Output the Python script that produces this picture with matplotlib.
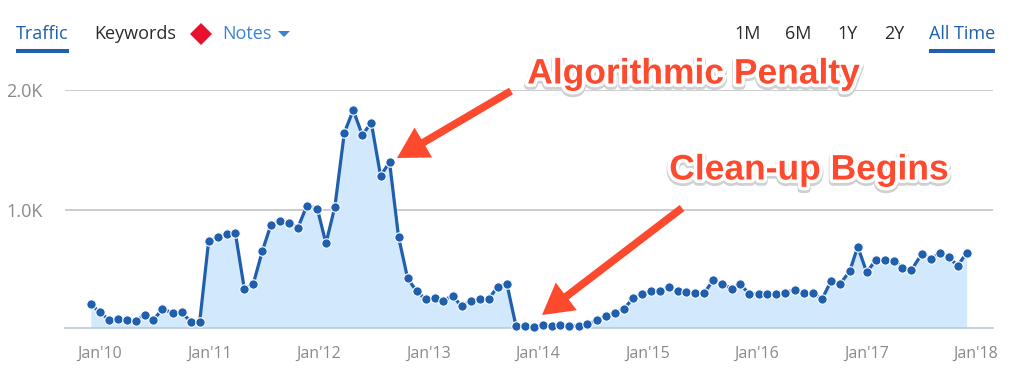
import matplotlib
matplotlib.use("Agg")
import matplotlib.pyplot as plt
import matplotlib.patheffects as pe
from matplotlib.patches import Rectangle, Polygon

# months since Jan 2010 (points are not quite evenly spaced)
months = [-1.02, -0.04, 0.95, 1.94, 2.92, 3.91, 4.89, 5.84, 6.83, 7.96, 8.95, 9.94,
          10.93, 11.91, 12.97, 13.88, 14.83, 15.82, 16.80, 17.79, 18.74, 19.73, 20.71, 21.70,
          22.68, 23.82, 24.77, 25.75, 26.78, 27.76, 28.75, 29.74, 30.76, 31.74, 32.73, 33.72,
          34.70, 35.72, 36.71, 37.63, 38.65, 39.63, 40.62, 41.61, 42.59, 43.62, 44.60, 45.59,
          46.58, 47.60, 48.58, 49.53, 50.48, 51.47, 52.46, 53.44, 54.47, 55.45, 56.44, 57.46,
          58.45, 59.43, 60.42, 61.37, 62.36, 63.34, 64.29, 65.28, 66.23, 67.21, 68.20, 69.33,
          70.17, 71.16, 72.25, 73.13, 74.08, 75.07, 76.24, 77.19, 78.17, 79.16, 80.15, 81.13,
          82.19, 83.07, 84.05, 85.05, 86.03, 87.09, 87.97, 88.96, 90.09, 91.08, 92.05, 93.04,
          94.03, 95.01]
traffic = [214, 150, 86, 92, 80, 75, 125, 83, 172, 144, 147, 69,
           69, 744, 775, 800, 811, 342, 383, 656, 878, 906, 892, 853,
           1036, 1011, 722, 1028, 1642, 1833, 1625, 1728, 1283, 1400, 775, 431,
           322, 256, 267, 244, 286, 197, 242, 258, 258, 361, 386, 36,
           33, 28, 39, 31, 42, 36, 36, 47, 81, 117, 144, 178,
           264, 303, 322, 328, 356, 322, 319, 306, 306, 414, 383, 342,
           381, 303, 300, 300, 300, 311, 336, 311, 306, 258, 408, 383,
           489, 694, 481, 581, 586, 578, 517, 500, 633, 594, 639, 606,
           536, 642]
xtick_pos = [0, 12, 24, 36, 48, 60, 72, 84, 96]
xtick_labels = ["Jan'10", "Jan'11", "Jan'12", "Jan'13", "Jan'14", "Jan'15", "Jan'16", "Jan'17", "Jan'18"]
ytick_pos = [1000, 2000]
ytick_labels = ["1.0K", "2.0K"]
range_labels = ["1M", "6M", "1Y", "2Y"]

W, H = 1010, 391
BLUE = "#1f5fae"
RED = "#fd4a2e"
UI_FONT = "Open Sans"

def fx(px):
    return px / W

def fy(py):
    return 1 - py / H

fig = plt.figure(figsize=(W / 100, H / 100), dpi=100)
ax = fig.add_axes([fx(65), fy(327.5), fx(993 - 65), fy(90) - fy(327.5)])
ax.set_xlim(-3.84, 97.9)
ax.set_ylim(20, 2000)

ax.fill_between(months, traffic, 20, color="#d2e8fc", lw=0, zorder=2)
ax.grid(axis="y", color="#c9c9c9", lw=1.3, zorder=1)
ax.set_axisbelow(True)
ax.plot(months, traffic, color=BLUE, lw=2.3, marker="o", ms=6.8, mfc=BLUE,
        mec="white", mew=0.8, zorder=3, clip_on=False, solid_joinstyle="round")

for s in ["top", "left", "right"]:
    ax.spines[s].set_visible(False)
ax.spines["bottom"].set_color("#b9c9dc")
ax.spines["bottom"].set_linewidth(1.2)

ax.set_xticks(xtick_pos)
ax.set_xticklabels(xtick_labels, family=UI_FONT, fontsize=11.5, color="#8a8a8a")
ax.set_yticks(ytick_pos)
ax.set_yticklabels(ytick_labels, family=UI_FONT, fontsize=13, color="#8a8a8a")
ax.tick_params(axis="x", length=0, pad=13)
ax.tick_params(axis="y", length=0, pad=16)

# header tabs
def tab(px, py, s, color, ha="left"):
    fig.text(fx(px), fy(py), s, family=UI_FONT, fontsize=13, weight=500, color=color, ha=ha, va="center")

def underline(x0, x1):
    fig.add_artist(Rectangle((fx(x0), fy(53)), fx(x1 - x0), 4 / H, transform=fig.transFigure,
                             color=BLUE, lw=0))

tab(16, 34, "Traffic", BLUE)
underline(16, 69)
tab(94, 34, "Keywords", "#2b2b2b")
fig.add_artist(Polygon([(fx(190), fy(34)), (fx(201), fy(23)), (fx(212), fy(34)), (fx(201), fy(45))],
                       transform=fig.transFigure, color="#e8112d", lw=0))
tab(222, 34, "Notes", "#3a82d2")
fig.add_artist(Polygon([(fx(278), fy(31)), (fx(290), fy(31)), (fx(284), fy(37))],
                       transform=fig.transFigure, color="#3a82d2", lw=0))
for px, s in zip([748, 798, 848, 894], range_labels):
    tab(px, 34, s, "#2b2b2b", ha="center")
tab(929, 34, "All Time", BLUE)
underline(929, 995)

# annotations pasted on top of the chart
def arrow(tail, tip):
    ax.annotate("", xy=(tip[0], H - tip[1]), xytext=(tail[0], H - tail[1]),
                xycoords="figure pixels", textcoords="figure pixels", zorder=5,
                arrowprops=dict(arrowstyle="simple,head_length=2.2,head_width=2.5,tail_width=0.55",
                                mutation_scale=10, color=RED, lw=0, shrinkA=0, shrinkB=0))

arrow((511, 91), (397, 158))
arrow((682, 208), (542, 315))

halo = [pe.Stroke(linewidth=6, foreground="#d0d0d0", offset=(0, -1.5)),
        pe.Stroke(linewidth=5, foreground="white"), pe.Normal()]
for px, py, s in [(693.5, 74, "Algorithmic Penalty"), (809, 170, "Clean-up Begins")]:
    fig.text(fx(px), fy(py), s, family="Liberation Sans", weight="bold", fontsize=25.5,
             color=RED, ha="center", va="center", path_effects=halo, zorder=6)

fig.savefig("out.png", dpi=100)
